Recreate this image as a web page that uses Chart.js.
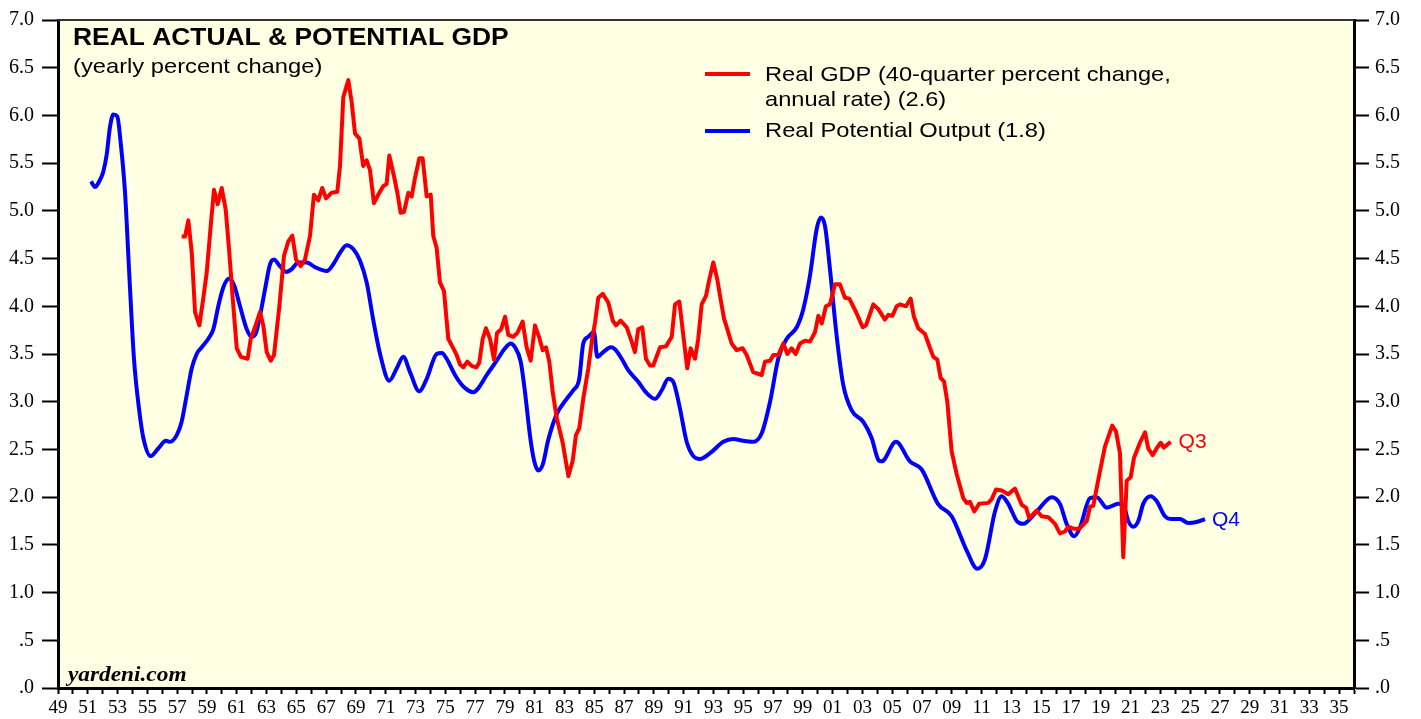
<!DOCTYPE html>
<html>
<head>
<meta charset="utf-8">
<title>Real Actual & Potential GDP</title>
<script src="https://cdn.jsdelivr.net/npm/chart.js@4.4.1/dist/chart.umd.min.js"></script>
<style>
    html, body { margin: 0; padding: 0; background: #fff; }
    #wrap { position: relative; width: 1421px; height: 719px; }
</style>
</head>
<body>
<div id="wrap"><canvas id="gdp-chart" width="1421" height="719"></canvas></div>
<script>
// Real GDP, 40-quarter percent change (annual rate)
const gdpYears = [1957.30,1957.53,1957.75,1957.98,1958.20,1958.49,1958.75,1958.98,1959.25,1959.47,
    1959.72,1959.99,1960.26,1960.48,1960.73,1961.00,1961.28,1961.73,1961.94,1962.22,
    1962.56,1962.78,1963.01,1963.28,1963.50,1963.86,1964.17,1964.46,1964.73,1964.98,
    1965.29,1965.58,1965.92,1966.18,1966.47,1966.74,1966.99,1967.37,1967.75,1967.93,
    1968.15,1968.49,1968.72,1968.94,1969.23,1969.49,1969.72,1969.94,1970.21,1970.50,
    1970.84,1971.06,1971.24,1971.56,1971.78,1972.00,1972.23,1972.52,1972.74,1972.96,
    1973.25,1973.48,1973.75,1974.02,1974.19,1974.42,1974.64,1974.91,1975.20,1975.50,
    1975.76,1975.99,1976.21,1976.48,1976.77,1977.08,1977.28,1977.51,1977.73,1978.00,
    1978.27,1978.47,1978.75,1979.01,1979.23,1979.56,1979.83,1980.19,1980.46,1980.73,
    1981.02,1981.29,1981.54,1981.76,1981.98,1982.21,1982.48,1982.88,1983.26,1983.55,
    1983.77,1983.99,1984.26,1984.60,1984.85,1985.05,1985.27,1985.57,1985.94,1986.24,
    1986.46,1986.77,1987.18,1987.51,1987.73,1987.95,1988.22,1988.47,1988.74,1988.96,
    1989.41,1989.81,1990.20,1990.42,1990.71,1990.98,1991.24,1991.47,1991.76,1991.98,
    1992.21,1992.50,1992.72,1992.99,1993.26,1993.44,1993.71,1993.93,1994.22,1994.56,
    1994.96,1995.23,1995.67,1996.24,1996.46,1996.80,1997.02,1997.35,1997.69,1997.96,
    1998.25,1998.52,1998.81,1999.15,1999.48,1999.82,2000.04,2000.27,2000.55,2000.82,
    2001.16,2001.49,2001.83,2002.12,2002.57,2003.02,2003.24,2003.73,2004.07,2004.51,
    2004.74,2005.01,2005.30,2005.52,2005.92,2006.24,2006.46,2006.75,2007.20,2007.54,
    2007.76,2008.03,2008.25,2008.48,2008.70,2008.99,2009.33,2009.77,2010.00,2010.22,
    2010.51,2010.83,2011.45,2011.68,2011.97,2012.35,2012.79,2013.24,2013.69,2013.98,
    2014.20,2014.70,2015.03,2015.48,2015.93,2016.26,2016.60,2016.82,2017.16,2017.56,
    2018.06,2018.28,2018.50,2018.77,2019.06,2019.28,2019.57,2019.77,2020.02,2020.29,
    2020.51,2020.74,2021.01,2021.23,2021.63,2021.97,2022.19,2022.48,2022.75,2023.02,
    2023.24,2023.69];
const gdpValues = [4.73,4.73,4.90,4.56,3.94,3.80,4.08,4.35,4.84,5.22,
    5.07,5.24,5.01,4.60,4.08,3.56,3.47,3.45,3.66,3.78,
    3.94,3.80,3.52,3.43,3.49,4.00,4.53,4.68,4.74,4.49,
    4.42,4.49,4.74,5.17,5.11,5.24,5.13,5.19,5.20,5.47,
    6.19,6.37,6.13,5.81,5.76,5.47,5.53,5.43,5.08,5.17,
    5.26,5.28,5.58,5.36,5.19,4.98,4.99,5.19,5.15,5.34,
    5.55,5.55,5.15,5.17,4.74,4.61,4.25,4.16,3.66,3.57,
    3.49,3.39,3.36,3.42,3.375,3.36,3.41,3.66,3.77,3.66,
    3.44,3.72,3.76,3.89,3.70,3.68,3.72,3.84,3.57,3.43,
    3.80,3.68,3.54,3.57,3.42,3.10,2.83,2.57,2.22,2.38,
    2.65,2.72,3.03,3.35,3.65,3.83,4.09,4.13,4.04,3.85,
    3.80,3.85,3.78,3.63,3.52,3.76,3.78,3.45,3.38,3.38,
    3.57,3.58,3.68,4.02,4.05,3.69,3.35,3.56,3.45,3.66,
    4.02,4.11,4.28,4.46,4.28,4.11,3.87,3.76,3.61,3.54,
    3.56,3.49,3.31,3.28,3.42,3.43,3.49,3.49,3.61,3.50,
    3.56,3.50,3.61,3.64,3.63,3.73,3.90,3.82,4.00,4.02,
    4.23,4.23,4.09,4.08,3.94,3.78,3.80,4.02,3.97,3.86,
    3.91,3.90,4.00,4.02,4.00,4.08,3.89,3.77,3.71,3.56,
    3.47,3.44,3.25,3.21,3.00,2.48,2.24,1.99,1.94,1.95,
    1.85,1.93,1.94,1.98,2.08,2.07,2.03,2.09,1.92,1.89,
    1.78,1.86,1.80,1.79,1.72,1.62,1.64,1.69,1.67,1.67,
    1.75,1.90,1.91,2.13,2.36,2.53,2.66,2.75,2.69,2.46,
    1.37,2.17,2.21,2.41,2.57,2.68,2.51,2.44,2.51,2.57,
    2.52,2.58];

// Real potential output, yearly percent change
const potentialYears = [1951.22,1951.48,1951.77,1952.04,1952.27,1952.49,1952.71,1952.98,1953.21,1953.50,
    1953.79,1954.10,1954.46,1954.73,1955.22,1955.73,1956.25,1956.52,1956.97,1957.30,
    1957.64,1957.98,1958.31,1958.65,1959.09,1959.43,1959.76,1960.10,1960.50,1960.82,
    1961.22,1961.67,1962.00,1962.29,1962.56,1962.90,1963.23,1963.50,1963.90,1964.31,
    1964.69,1965.13,1965.70,1966.25,1967.04,1967.48,1967.93,1968.38,1968.82,1969.27,
    1969.72,1970.17,1970.62,1971.24,1971.74,1972.18,1972.63,1973.25,1973.75,1974.42,
    1974.76,1975.09,1975.65,1976.21,1976.88,1977.21,1977.78,1978.45,1979.01,1979.39,
    1979.68,1980.06,1980.35,1980.68,1980.95,1981.24,1981.54,1981.91,1982.48,1983.15,
    1983.59,1983.99,1984.26,1984.60,1984.98,1985.20,1985.60,1986.10,1986.39,1986.84,
    1987.28,1987.95,1988.52,1989.08,1989.53,1989.97,1990.30,1990.75,1991.20,1991.65,
    1992.10,1992.77,1993.66,1994.33,1995.00,1995.67,1996.24,1996.80,1997.35,1997.92,
    1998.59,1999.03,1999.48,1999.93,2000.22,2000.49,2000.82,2001.27,2001.72,2002.28,
    2003.06,2003.62,2004.07,2004.29,2005.25,2006.19,2006.98,2008.07,2008.99,2010.00,
    2010.71,2011.23,2011.90,2012.35,2012.79,2013.36,2013.78,2014.70,2015.71,2016.26,
    2016.71,2017.22,2017.60,2018.28,2018.73,2019.40,2020.18,2020.51,2020.85,2021.18,
    2021.52,2021.85,2022.35,2022.75,2023.31,2023.76,2024.32,2024.87,2025.44,2026.00];
const potentialValues = [5.31,5.25,5.31,5.41,5.59,5.88,6.01,5.99,5.71,5.19,
    4.32,3.45,2.90,2.62,2.43,2.51,2.59,2.58,2.65,2.79,
    3.07,3.35,3.50,3.57,3.66,3.76,4.00,4.20,4.29,4.22,
    4.00,3.76,3.68,3.72,3.90,4.18,4.44,4.49,4.42,4.36,
    4.39,4.46,4.46,4.41,4.37,4.44,4.56,4.64,4.60,4.48,
    4.25,3.85,3.50,3.22,3.35,3.47,3.31,3.11,3.24,3.50,
    3.51,3.45,3.28,3.16,3.10,3.14,3.28,3.43,3.56,3.61,
    3.57,3.42,3.10,2.65,2.39,2.28,2.34,2.60,2.87,3.03,
    3.12,3.24,3.61,3.68,3.73,3.47,3.52,3.57,3.55,3.45,
    3.33,3.21,3.09,3.03,3.12,3.24,3.21,2.93,2.58,2.43,
    2.40,2.46,2.58,2.61,2.59,2.58,2.67,3.00,3.45,3.66,
    3.78,3.97,4.32,4.81,4.93,4.84,4.39,3.69,3.17,2.91,
    2.79,2.62,2.39,2.375,2.58,2.375,2.29,1.93,1.80,1.44,
    1.25,1.35,1.85,2.01,1.93,1.75,1.72,1.85,2.00,1.93,
    1.72,1.59,1.68,1.99,2.00,1.89,1.93,1.92,1.75,1.69,
    1.75,1.93,2.01,1.96,1.80,1.77,1.77,1.73,1.74,1.77];

const legendLabels = ['Real GDP (40-quarter percent change,', 'annual rate) (2.6)', 'Real Potential Output (1.8)'];
const endLabels = ['Q3', 'Q4'];

const serif = '"Liberation Serif", "Times New Roman", serif';
const sans = '"Liberation Sans", Arial, sans-serif';

function toPoints(xs, ys) {
    return xs.map((x, i) => ({ x: x, y: ys[i] }));
}

function fmtY(v) {
    const s = v.toFixed(1);
    return s.charAt(0) === '0' ? s.slice(1) : s;
}

// texto esticado na horizontal (a fonte do original é mais larga)
function textoLargo(ctx, txt, x, y, sx) {
    ctx.save();
    ctx.translate(x, y);
    ctx.scale(sx, 1);
    ctx.fillText(txt, 0, 0);
    ctx.restore();
}

// fundo amarelo, borda de cima e textos
const painel = {
    id: 'painel',
    beforeDraw(chart) {
        const { ctx, chartArea: a } = chart;
        ctx.save();
        ctx.fillStyle = '#FFFFE4';
        ctx.fillRect(a.left, a.top, a.right - a.left, a.bottom - a.top);
        ctx.restore();
    },
    afterDraw(chart) {
        const { ctx, chartArea: a } = chart;
        const xs = chart.scales.x, ys = chart.scales.y;
        ctx.save();
        ctx.strokeStyle = '#333';
        ctx.lineWidth = 2;
        ctx.beginPath();
        ctx.moveTo(a.left, a.top);
        ctx.lineTo(a.right, a.top);
        ctx.stroke();

        ctx.fillStyle = '#000';
        ctx.textBaseline = 'alphabetic';
        ctx.font = 'bold 24px ' + sans;
        textoLargo(ctx, 'REAL ACTUAL & POTENTIAL GDP', 73, 45, 1.1);
        ctx.font = '21px ' + sans;
        textoLargo(ctx, '(yearly percent change)', 73, 73, 1.13);

        // legenda
        ctx.lineWidth = 4;
        ctx.strokeStyle = '#FF0000';
        ctx.beginPath(); ctx.moveTo(705, 74); ctx.lineTo(750, 74); ctx.stroke();
        ctx.strokeStyle = '#0000FF';
        ctx.beginPath(); ctx.moveTo(705, 131); ctx.lineTo(750, 131); ctx.stroke();
        ctx.font = '21px ' + sans;
        textoLargo(ctx, legendLabels[0], 765, 81, 1.125);
        textoLargo(ctx, legendLabels[1], 765, 106, 1.125);
        textoLargo(ctx, legendLabels[2], 765, 137, 1.13);

        ctx.font = 'italic bold 22px ' + serif;
        textoLargo(ctx, 'yardeni.com', 68, 681, 1.06);

        // rótulos no fim das linhas
        ctx.font = '21px ' + sans;
        ctx.textBaseline = 'middle';
        const gi = gdpYears.length - 1, pi = potentialYears.length - 1;
        ctx.fillStyle = '#FF0000';
        ctx.fillText(endLabels[0], xs.getPixelForValue(gdpYears[gi]) + 8, ys.getPixelForValue(gdpValues[gi]));
        ctx.fillStyle = '#0000FF';
        ctx.fillText(endLabels[1], xs.getPixelForValue(potentialYears[pi]) + 7, ys.getPixelForValue(potentialValues[pi]) + 1);
        ctx.restore();
    }
};

const ctx = document.getElementById('gdp-chart').getContext('2d');
const gdpChart = new Chart(ctx, {
    type: 'line',
    data: {
        datasets: [
            {
                label: legendLabels[0] + ' ' + legendLabels[1],
                data: toPoints(gdpYears, gdpValues),
                borderColor: '#FF0000',
                borderWidth: 4,
                pointRadius: 0,
                tension: 0,
                borderJoinStyle: 'round'
            },
            {
                label: legendLabels[2],
                data: toPoints(potentialYears, potentialValues),
                borderColor: '#0000FF',
                borderWidth: 4,
                pointRadius: 0,
                cubicInterpolationMode: 'monotone',
                borderJoinStyle: 'round'
            }
        ]
    },
    options: {
        responsive: false,
        animation: false,
        devicePixelRatio: 1,
        layout: { padding: { top: 16, left: 0, right: 0, bottom: 0 } },
        plugins: {
            legend: { display: false },
            tooltip: { enabled: false }
        },
        scales: {
            x: {
                type: 'linear',
                min: 1949,
                max: 2036,
                afterFit(s) { s.height = 31; },
                grid: { drawOnChartArea: false, tickLength: 6, tickWidth: 2, tickColor: '#000' },
                border: { color: '#000', width: 3 },
                ticks: {
                    stepSize: 1,
                    autoSkip: false,
                    maxRotation: 0,
                    minRotation: 0,
                    padding: 3,
                    color: '#000',
                    font: { family: serif, size: 19 },
                    callback: function(value) {
                        return value % 2 === 1 ? String(value % 100).padStart(2, '0') : '';
                    }
                }
            },
            y: {
                position: 'left',
                min: 0,
                max: 7,
                afterFit(s) { s.width = 58; },
                grid: { drawOnChartArea: false, tickLength: 16, tickWidth: 2, tickColor: '#000' },
                border: { color: '#000', width: 3 },
                ticks: { stepSize: 0.5, padding: 8, color: '#000', font: { family: serif, size: 20 }, callback: fmtY }
            },
            y2: {
                position: 'right',
                min: 0,
                max: 7,
                afterFit(s) { s.width = 67; },
                grid: { drawOnChartArea: false, tickLength: 15, tickWidth: 2, tickColor: '#000' },
                border: { color: '#000', width: 3 },
                ticks: { stepSize: 0.5, padding: 6, color: '#000', font: { family: serif, size: 20 }, callback: fmtY }
            }
        }
    },
    plugins: [painel]
});
</script>
</body>
</html>
